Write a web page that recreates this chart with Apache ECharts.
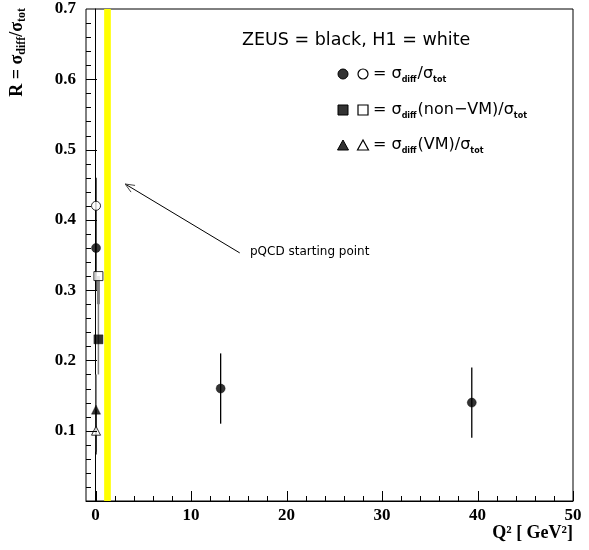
<!DOCTYPE html>
<html>
<head>
<meta charset="utf-8">
<script src="https://cdn.jsdelivr.net/npm/echarts@6.0.0/dist/echarts.min.js"></script>
<style>
html,body{margin:0;padding:0;background:#fff;}
#chart{width:589px;height:550px;}
</style>
</head>
<body>
<div id="chart"></div>
<script>
// ---------------- data ----------------
const xMajorTicks = [0, 10, 20, 30, 40, 50];
const xMinorTicks = [2, 4, 6, 8, 12, 14, 16, 18, 22, 24, 26, 28, 32, 34, 36, 38, 42, 44, 46, 48];
const yMajorTicks = [0.1, 0.2, 0.3, 0.4, 0.5, 0.6];
const yMinorTicks = [0.02, 0.04, 0.06, 0.08, 0.12, 0.14, 0.16, 0.18, 0.22, 0.24, 0.26, 0.28,
                     0.32, 0.34, 0.36, 0.38, 0.42, 0.44, 0.46, 0.48, 0.52, 0.54, 0.56, 0.58,
                     0.62, 0.64, 0.66, 0.68];
const yLabels = [0.1, 0.2, 0.3, 0.4, 0.5, 0.6, 0.7];

// ZEUS = black (filled), H1 = white (open)
const zeusCircleX  = [0.05, 13.1, 39.4];
const zeusCircleY  = [0.36, 0.16, 0.14];
const zeusCircleLo = [0.30, 0.11, 0.09];
const zeusCircleHi = [0.46, 0.21, 0.19];

const h1CircleX = [0.05];
const h1CircleY = [0.42];

const h1SquareX  = [0.3];
const h1SquareY  = [0.32];
const h1SquareLo = [0.18];
const h1SquareHi = [0.32];
const h1SquareStatLo = [0.28];
const h1SquareStatHi = [0.32];

const zeusSquareX = [0.3];
const zeusSquareY = [0.23];

const zeusTriangleX  = [0.05];
const zeusTriangleY  = [0.13];
const zeusTriangleLo = [0.07];
const zeusTriangleHi = [0.18];

const h1TriangleX  = [0.05];
const h1TriangleY  = [0.10];
const h1TriangleLo = [0.066];
const h1TriangleHi = [0.13];

const pqcdBand = [0.9, 1.6];
// arrow: from (tail x, tail y) to (tip x, tip y)
const arrowTail = [15.1, 0.353];
const arrowTip  = [3.1, 0.451];

// ---------------- helpers ----------------
const pts = (xs, ys) => xs.map((x, i) => [x, ys[i]]);
const errs = (xs, lo, hi) => xs.map((x, i) => [x, lo[i], hi[i]]);

function errSeries(data, color, width) {
  return {
    type: 'custom',
    data: data,
    encode: { x: 0, y: [1, 2] },
    clip: false,
    silent: true,
    z: 3,
    renderItem: function (params, api) {
      const a = api.coord([api.value(0), api.value(1)]);
      const b = api.coord([api.value(0), api.value(2)]);
      return { type: 'line', shape: { x1: a[0], y1: a[1], x2: b[0], y2: b[1] },
               style: { stroke: color, lineWidth: width } };
    }
  };
}

// tick marks drawn inward from the frame, positioned through the axis scales
function xTickSeries(values, len) {
  return {
    type: 'custom', data: values.map(v => [v, 0.35]), encode: { x: 0, y: 1 }, clip: false, silent: true, z: 6,
    renderItem: function (params, api) {
      const cs = params.coordSys;
      const p = api.coord([api.value(0), 0]);
      const x = Math.round(p[0]) + 0.5;
      const yb = cs.y + cs.height;
      return { type: 'line', shape: { x1: x, y1: yb, x2: x, y2: yb - len }, style: { stroke: '#000', lineWidth: 1 } };
    }
  };
}
function yTickSeries(values, len) {
  return {
    type: 'custom', data: values.map(v => [20, v]), encode: { x: 0, y: 1 }, clip: false, silent: true, z: 6,
    renderItem: function (params, api) {
      const cs = params.coordSys;
      const p = api.coord([0, api.value(1)]);
      const y = Math.round(p[1]) + 0.5;
      return { type: 'line', shape: { x1: cs.x, y1: y, x2: cs.x + len, y2: y }, style: { stroke: '#000', lineWidth: 1 } };
    }
  };
}

function scatter(data, symbol, size, filled) {
  return {
    type: 'scatter', data: data, symbol: symbol, symbolSize: size, z: 5, silent: true,
    itemStyle: filled ? { color: '#000', borderColor: '#000', borderWidth: 0.5 }
                      : { color: '#fff', borderColor: '#000', borderWidth: 1 }
  };
}

const serif = 'Liberation Serif';
const sans = 'DejaVu Sans';

const chart = echarts.init(document.getElementById('chart'), null, { renderer: 'canvas' });

const legendRich = {
  t: { fontFamily: sans, fontSize: 16, color: '#000', lineHeight: 20, verticalAlign: 'middle' },
  s: { fontFamily: sans, fontSize: 16, color: '#000', lineHeight: 20, verticalAlign: 'middle' },
  sub: { fontFamily: sans, fontSize: 8, fontWeight: 'bold', color: '#000', lineHeight: 20, verticalAlign: 'bottom', padding: [0, 1, 0, 0] }
};

const option = {
  animation: false,
  backgroundColor: '#fff',
  grid: { left: 86, top: 9, right: 16, bottom: 49, show: true, borderColor: '#000', borderWidth: 1, containLabel: false },
  xAxis: {
    type: 'value', min: -1, max: 50,
    axisLine: { show: true, lineStyle: { color: '#000', width: 1 } },
    axisTick: { show: false },
    axisLabel: { show: true, customValues: xMajorTicks, margin: 6, fontFamily: serif, fontWeight: 'bold', fontSize: 17, color: '#000' },
    splitLine: { show: false }
  },
  yAxis: {
    type: 'value', min: 0, max: 0.7, interval: 0.1,
    axisLine: { show: true, lineStyle: { color: '#000', width: 1 } },
    axisTick: { show: false },
    minorTick: { show: false },
    axisLabel: {
      margin: 10, fontFamily: serif, fontWeight: 'bold', fontSize: 17, color: '#000',
      formatter: v => (yLabels.some(t => Math.abs(t - v) < 1e-9) ? v.toFixed(1) : '')
    },
    splitLine: { show: false }
  },
  graphic: [
    {
      type: 'text', x: 17, y: 8, rotation: Math.PI / 2,
      style: {
        text: '{b|R = σ}{s|diff}{b|/σ}{s|tot}', align: 'right', verticalAlign: 'middle',
        rich: {
          b: { fontFamily: serif, fontWeight: 'bold', fontSize: 18, color: '#000', lineHeight: 22, verticalAlign: 'middle' },
          s: { fontFamily: serif, fontWeight: 'bold', fontSize: 12, color: '#000', lineHeight: 22, verticalAlign: 'bottom' }
        }
      }
    },
    {
      type: 'text', x: 573, y: 533,
      style: { text: 'Q² [ GeV²]', align: 'right', verticalAlign: 'middle', fontFamily: serif, fontWeight: 'bold', fontSize: 18, fill: '#000' }
    },
    {
      type: 'text', x: 242, y: 40,
      style: { text: 'ZEUS = black, H1 = white', align: 'left', verticalAlign: 'middle', fontFamily: sans, fontSize: 17.5, fill: '#000' }
    },
    // legend row 1
    { type: 'circle', shape: { cx: 343, cy: 74, r: 5 }, style: { fill: '#333', stroke: '#000', lineWidth: 1 } },
    { type: 'circle', shape: { cx: 363, cy: 74, r: 5 }, style: { fill: '#fff', stroke: '#000', lineWidth: 1.2 } },
    { type: 'text', x: 373, y: 74, style: { text: '{t|= }{s|σ}{sub|diff}{s|/σ}{sub|tot}', verticalAlign: 'middle', rich: legendRich } },
    // legend row 2
    { type: 'rect', shape: { x: 338, y: 105, width: 10, height: 10 }, style: { fill: '#333', stroke: '#000', lineWidth: 1 } },
    { type: 'rect', shape: { x: 358, y: 105, width: 10, height: 10 }, style: { fill: '#fff', stroke: '#000', lineWidth: 1.2 } },
    { type: 'text', x: 373, y: 110, style: { text: '{t|= }{s|σ}{sub|diff}{s|(non−VM)/σ}{sub|tot}', verticalAlign: 'middle', rich: legendRich } },
    // legend row 3
    { type: 'polygon', shape: { points: [[343, 140], [337.5, 150], [348.5, 150]] }, style: { fill: '#333', stroke: '#000', lineWidth: 1 } },
    { type: 'polygon', shape: { points: [[363, 140], [357.5, 150], [368.5, 150]] }, style: { fill: '#fff', stroke: '#000', lineWidth: 1.2 } },
    { type: 'text', x: 373, y: 145, style: { text: '{t|= }{s|σ}{sub|diff}{s|(VM)/σ}{sub|tot}', verticalAlign: 'middle', rich: legendRich } },
    {
      type: 'text', x: 250, y: 252,
      style: { text: 'pQCD starting point', align: 'left', verticalAlign: 'middle', fontFamily: sans, fontSize: 12, fill: '#000' }
    }
  ],
  series: [
    {
      type: 'scatter', data: [], silent: true, z: 1,
      markArea: {
        silent: true,
        itemStyle: { color: '#ffff00', borderWidth: 0 },
        data: [[{ xAxis: pqcdBand[0] }, { xAxis: pqcdBand[1] }]]
      }
    },
    xTickSeries(xMajorTicks, 10),
    xTickSeries(xMinorTicks, 5),
    yTickSeries(yMajorTicks, 11),
    yTickSeries(yMinorTicks, 5),
    errSeries(errs(zeusCircleX, zeusCircleLo, zeusCircleHi), '#000', 1.3),
    errSeries(errs(h1SquareX, h1SquareLo, h1SquareHi), '#808080', 1.5),
    errSeries(errs(h1SquareX, h1SquareStatLo, h1SquareStatHi), '#808080', 3),
    errSeries(errs(zeusTriangleX, zeusTriangleLo, zeusTriangleHi), '#666', 1.5),
    errSeries(errs(h1TriangleX, h1TriangleLo, h1TriangleHi), '#000', 1.3),
    {
      type: 'custom', data: [[arrowTail[0], arrowTail[1], arrowTip[0], arrowTip[1]]],
      encode: { x: [0, 2], y: [1, 3] }, clip: false, silent: true, z: 4,
      renderItem: function (params, api) {
        const a = api.coord([api.value(0), api.value(1)]);
        const b = api.coord([api.value(2), api.value(3)]);
        const ang = Math.atan2(a[1] - b[1], a[0] - b[0]);
        const L = 10, w = 0.4;
        const h1 = [b[0] + L * Math.cos(ang + w), b[1] + L * Math.sin(ang + w)];
        const h2 = [b[0] + L * Math.cos(ang - w), b[1] + L * Math.sin(ang - w)];
        return {
          type: 'group',
          children: [
            { type: 'line', shape: { x1: a[0], y1: a[1], x2: b[0], y2: b[1] }, style: { stroke: '#000', lineWidth: 1 } },
            { type: 'polyline', shape: { points: [h1, b, h2] }, style: { stroke: '#444', lineWidth: 1, fill: null } }
          ]
        };
      }
    },
    scatter(pts(zeusCircleX, zeusCircleY), 'circle', 9, true),
    scatter(pts(h1CircleX, h1CircleY), 'circle', 9, false),
    scatter(pts(h1SquareX, h1SquareY), 'rect', 9, false),
    scatter(pts(zeusSquareX, zeusSquareY), 'rect', 9, true),
    scatter(pts(zeusTriangleX, zeusTriangleY), 'triangle', 9, true),
    scatter(pts(h1TriangleX, h1TriangleY), 'triangle', 9, false)
  ]
};
chart.setOption(option);
</script>
</body>
</html>
